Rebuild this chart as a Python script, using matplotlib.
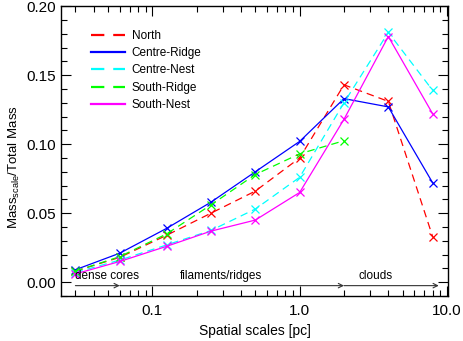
import matplotlib
matplotlib.use("Agg")
import matplotlib.pyplot as plt
from matplotlib.ticker import MultipleLocator, FixedLocator, NullFormatter, FixedFormatter

plt.rcParams['font.family'] = ['Liberation Sans', 'DejaVu Sans']
plt.rcParams['mathtext.fontset'] = 'custom'
plt.rcParams['mathtext.rm'] = 'Liberation Sans'
plt.rcParams['mathtext.it'] = 'Liberation Sans'

scales = [0.03, 0.06, 0.125, 0.25, 0.5, 1.0, 2.0, 4.0, 8.0]
north = [0.008, 0.018, 0.034, 0.050, 0.066, 0.090, 0.143, 0.131, 0.033]
centre_ridge = [0.009, 0.021, 0.039, 0.058, 0.080, 0.102, 0.133, 0.127, 0.072]
centre_nest = [0.007, 0.016, 0.027, 0.0375, 0.053, 0.076, 0.130, 0.181, 0.139]
south_ridge = [0.008, 0.0185, 0.035, 0.056, 0.078, 0.093, 0.1025]
south_nest = [0.006, 0.015, 0.026, 0.037, 0.045, 0.065, 0.118, 0.178, 0.122]

series_names = ['North', 'Centre-Ridge', 'Centre-Nest', 'South-Ridge', 'South-Nest']
series_values = [north, centre_ridge, centre_nest, south_ridge, south_nest]
series_colors = ['red', 'blue', 'cyan', 'lime', 'magenta']
series_dashed = [True, False, True, True, False]

regions = ["dense cores", "filaments/ridges", "clouds"]
region_start = [0.03, 0.06, 2.0]
region_end = [0.06, 2.0, 8.8]
region_text_x = [0.03, 0.153, 2.5]

fig = plt.figure(figsize=(4.63, 3.41), dpi=100)
ax = fig.add_axes([0.132, 0.132, 0.836, 0.850])

dash = (6, 4)
for name, vals, col, dashed in zip(series_names, series_values, series_colors, series_dashed):
    xs = scales[:len(vals)]
    kw = dict(dashes=dash) if dashed else dict(ls='-')
    ax.plot(xs, vals, color=col, lw=0.9, label=name, **kw)
    ax.plot(xs, vals, color=col, ls='none', marker='x', ms=6, mew=0.9)

for name, x0, x1, tx in zip(regions, region_start, region_end, region_text_x):
    ax.annotate('', xy=(x1, -0.0025), xytext=(x0, -0.0025),
                arrowprops=dict(arrowstyle='->', color='#333333', lw=0.8,
                                shrinkA=0, shrinkB=0, mutation_scale=8))
    ax.text(tx, 0.0, name, fontsize=8.5, ha='left', va='bottom')

ax.set_xscale('log')
ax.set_xlim(0.024, 10.2)
ax.set_ylim(-0.01, 0.20)
ax.xaxis.set_major_locator(FixedLocator([0.1, 1.0, 10.0]))
ax.xaxis.set_major_formatter(FixedFormatter(['0.1', '1.0', '10.0']))
ax.xaxis.set_minor_formatter(NullFormatter())
ax.yaxis.set_major_locator(MultipleLocator(0.05))
ax.yaxis.set_minor_locator(MultipleLocator(0.01))
ax.yaxis.set_major_formatter(matplotlib.ticker.FormatStrFormatter('%.2f'))

ax.tick_params(which='both', direction='in', top=True, right=True, labelsize=11, width=0.8)
ax.tick_params(which='major', length=7)
ax.tick_params(which='minor', length=4)
ax.tick_params(axis='x', pad=6)
for s in ax.spines.values():
    s.set_linewidth(1.0)

ax.set_xlabel('Spatial scales [pc]', fontsize=10)
ax.set_ylabel(r'Mass$_{\rm scale}$/Total Mass', fontsize=9.5)
ax.yaxis.set_label_coords(-0.10, 0.445)

leg = ax.legend(loc='upper left', frameon=False, fontsize=8.5, handlelength=2.9,
                labelspacing=0.45, bbox_to_anchor=(0.05, 0.955), handletextpad=0.55)
for ln in leg.get_lines():
    ln.set_linewidth(1.6)

fig.savefig('out.png', dpi=100)
